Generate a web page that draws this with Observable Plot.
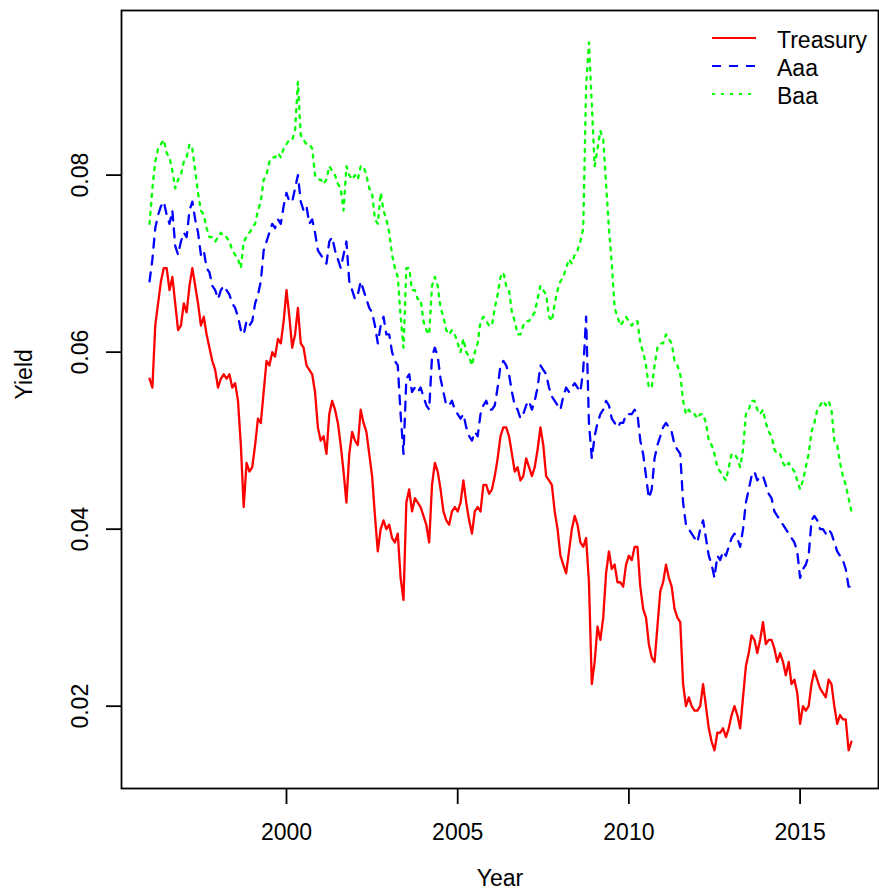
<!DOCTYPE html>
<html>
<head>
<meta charset="utf-8">
<script src="https://cdn.jsdelivr.net/npm/d3@7"></script>
<script src="https://cdn.jsdelivr.net/npm/@observablehq/plot@0.6"></script>
<style>
  body { margin: 0; background: #fff; font-family: "Liberation Sans", Arial, Helvetica, sans-serif; }
  #wrap { position: relative; width: 879px; height: 894px; }
  #legend { position: absolute; left: 712px; top: 24px; }
  .item { display: flex; align-items: center; height: 28px; }
  .item svg { display: block; }
  .item span { margin-left: 21px; font-size: 23px; color: #000; padding-top: 3px; line-height: 28px; }
</style>
</head>
<body>
<div id="wrap"><div id="legend"></div></div>
<script>
// Monthly readings, Jan 1996 .. Jul 2016
const startYear = 1996;
const treasury = [
  0.0570,0.0560,0.0630,0.0655,0.0680,0.0695,0.0695,0.0670,0.0685,0.0655,0.0625,0.0630,
  0.0655,0.0645,0.0675,0.0695,0.0675,0.0655,0.0630,0.0640,0.0620,0.0605,0.0590,0.0580,
  0.0560,0.0570,0.0575,0.0570,0.0575,0.0560,0.0565,0.0545,0.0495,0.0425,0.0475,0.0465,
  0.0470,0.0495,0.0525,0.0520,0.0555,0.0590,0.0585,0.0600,0.0595,0.0615,0.0610,0.0635,
  0.0670,0.0640,0.0605,0.0620,0.0650,0.0610,0.0605,0.0585,0.0580,0.0575,0.0555,0.0515,
  0.0500,0.0505,0.0485,0.0530,0.0545,0.0535,0.0520,0.0495,0.0465,0.0430,0.0485,0.0510,
  0.0500,0.0495,0.0535,0.0520,0.0510,0.0485,0.0460,0.0415,0.0375,0.0400,0.0410,0.0400,
  0.0405,0.0390,0.0385,0.0395,0.0345,0.0320,0.0430,0.0445,0.0420,0.0435,0.0430,0.0425,
  0.0415,0.0405,0.0385,0.0450,0.0475,0.0465,0.0445,0.0420,0.0410,0.0405,0.0420,0.0425,
  0.0420,0.0430,0.0455,0.0430,0.0410,0.0395,0.0420,0.0425,0.0420,0.0450,0.0450,0.0440,
  0.0445,0.0460,0.0480,0.0505,0.0515,0.0515,0.0505,0.0485,0.0465,0.0470,0.0455,0.0460,
  0.0480,0.0470,0.0460,0.0470,0.0490,0.0515,0.0495,0.0460,0.0455,0.0450,0.0420,0.0400,
  0.0370,0.0360,0.0350,0.0375,0.0400,0.0415,0.0405,0.0385,0.0380,0.0390,0.0340,0.0225,
  0.0250,0.0290,0.0275,0.0300,0.0350,0.0375,0.0355,0.0360,0.0340,0.0340,0.0335,0.0360,
  0.0370,0.0365,0.0380,0.0380,0.0335,0.0310,0.0300,0.0270,0.0255,0.0250,0.0290,0.0330,
  0.0340,0.0360,0.0345,0.0335,0.0310,0.0300,0.0295,0.0225,0.0200,0.0210,0.0200,0.0195,
  0.0195,0.0200,0.0225,0.0200,0.0175,0.0160,0.0150,0.0170,0.0170,0.0175,0.0165,0.0175,
  0.0190,0.0200,0.0190,0.0175,0.0210,0.0245,0.0260,0.0280,0.0275,0.0260,0.0275,0.0295,
  0.0270,0.0275,0.0275,0.0265,0.0250,0.0260,0.0250,0.0235,0.0250,0.0225,0.0230,0.0215,
  0.0180,0.0200,0.0195,0.0200,0.0225,0.0240,0.0230,0.0220,0.0215,0.0210,0.0230,0.0225,
  0.0200,0.0180,0.0190,0.0185,0.0185,0.0150,0.0160
];
const aaa = [
  0.0680,0.0705,0.0740,0.0755,0.0765,0.0770,0.0755,0.0745,0.0760,0.0720,0.0710,0.0725,
  0.0735,0.0730,0.0760,0.0770,0.0750,0.0735,0.0710,0.0715,0.0695,0.0690,0.0675,0.0670,
  0.0660,0.0670,0.0675,0.0670,0.0665,0.0655,0.0650,0.0640,0.0625,0.0620,0.0635,0.0630,
  0.0635,0.0655,0.0665,0.0680,0.0715,0.0725,0.0735,0.0745,0.0740,0.0750,0.0745,0.0765,
  0.0780,0.0770,0.0770,0.0785,0.0800,0.0770,0.0760,0.0765,0.0745,0.0750,0.0735,0.0715,
  0.0710,0.0705,0.0700,0.0725,0.0730,0.0715,0.0705,0.0695,0.0710,0.0725,0.0680,0.0670,
  0.0660,0.0665,0.0680,0.0670,0.0660,0.0650,0.0645,0.0630,0.0610,0.0630,0.0640,0.0620,
  0.0620,0.0600,0.0590,0.0585,0.0530,0.0485,0.0570,0.0575,0.0555,0.0560,0.0555,0.0560,
  0.0550,0.0540,0.0535,0.0595,0.0605,0.0595,0.0570,0.0555,0.0540,0.0540,0.0545,0.0535,
  0.0530,0.0525,0.0530,0.0515,0.0505,0.0500,0.0510,0.0505,0.0530,0.0540,0.0545,0.0535,
  0.0535,0.0540,0.0560,0.0585,0.0590,0.0585,0.0575,0.0555,0.0540,0.0535,0.0525,0.0530,
  0.0540,0.0545,0.0535,0.0545,0.0560,0.0585,0.0580,0.0575,0.0560,0.0550,0.0545,0.0540,
  0.0535,0.0550,0.0560,0.0555,0.0560,0.0565,0.0560,0.0555,0.0580,0.0640,0.0520,0.0480,
  0.0505,0.0520,0.0530,0.0535,0.0545,0.0540,0.0525,0.0520,0.0515,0.0520,0.0520,0.0530,
  0.0530,0.0530,0.0535,0.0530,0.0500,0.0485,0.0460,0.0435,0.0445,0.0480,0.0495,0.0505,
  0.0515,0.0520,0.0515,0.0510,0.0495,0.0490,0.0485,0.0430,0.0405,0.0400,0.0395,0.0390,
  0.0385,0.0400,0.0410,0.0390,0.0370,0.0360,0.0345,0.0370,0.0365,0.0375,0.0370,0.0380,
  0.0390,0.0395,0.0390,0.0380,0.0400,0.0430,0.0445,0.0460,0.0465,0.0455,0.0460,0.0460,
  0.0450,0.0440,0.0435,0.0420,0.0415,0.0410,0.0405,0.0400,0.0395,0.0390,0.0385,0.0375,
  0.0345,0.0355,0.0360,0.0370,0.0410,0.0415,0.0410,0.0400,0.0400,0.0395,0.0400,0.0395,
  0.0385,0.0375,0.0370,0.0365,0.0355,0.0335,0.0335
];
const baa = [
  0.0745,0.0785,0.0815,0.0830,0.0835,0.0840,0.0825,0.0820,0.0805,0.0785,0.0795,0.0800,
  0.0815,0.0820,0.0835,0.0830,0.0805,0.0780,0.0760,0.0755,0.0740,0.0730,0.0730,0.0725,
  0.0730,0.0735,0.0730,0.0730,0.0725,0.0715,0.0710,0.0705,0.0695,0.0725,0.0730,0.0735,
  0.0740,0.0745,0.0760,0.0770,0.0795,0.0800,0.0815,0.0820,0.0820,0.0825,0.0820,0.0830,
  0.0835,0.0840,0.0840,0.0850,0.0905,0.0845,0.0840,0.0835,0.0835,0.0830,0.0800,0.0795,
  0.0795,0.0790,0.0795,0.0810,0.0805,0.0800,0.0790,0.0785,0.0760,0.0810,0.0800,0.0795,
  0.0800,0.0795,0.0810,0.0810,0.0800,0.0785,0.0780,0.0750,0.0745,0.0780,0.0760,0.0750,
  0.0735,0.0710,0.0695,0.0685,0.0640,0.0605,0.0695,0.0695,0.0670,0.0670,0.0660,0.0660,
  0.0635,0.0625,0.0620,0.0675,0.0685,0.0675,0.0650,0.0640,0.0625,0.0620,0.0625,0.0620,
  0.0610,0.0600,0.0615,0.0600,0.0595,0.0585,0.0600,0.0610,0.0635,0.0640,0.0635,0.0630,
  0.0630,0.0650,0.0665,0.0685,0.0690,0.0675,0.0670,0.0645,0.0635,0.0620,0.0620,0.0630,
  0.0635,0.0635,0.0640,0.0645,0.0660,0.0675,0.0670,0.0665,0.0640,0.0635,0.0655,0.0670,
  0.0680,0.0685,0.0695,0.0705,0.0700,0.0710,0.0715,0.0725,0.0740,0.0900,0.0950,0.0880,
  0.0810,0.0830,0.0850,0.0840,0.0790,0.0740,0.0700,0.0650,0.0640,0.0630,0.0635,0.0640,
  0.0635,0.0630,0.0635,0.0635,0.0610,0.0600,0.0585,0.0560,0.0560,0.0585,0.0605,0.0610,
  0.0610,0.0620,0.0615,0.0610,0.0590,0.0585,0.0575,0.0545,0.0530,0.0535,0.0530,0.0530,
  0.0525,0.0530,0.0530,0.0520,0.0500,0.0495,0.0485,0.0470,0.0465,0.0460,0.0455,0.0470,
  0.0485,0.0485,0.0480,0.0470,0.0490,0.0530,0.0535,0.0545,0.0545,0.0535,0.0530,0.0535,
  0.0520,0.0510,0.0505,0.0490,0.0485,0.0485,0.0475,0.0470,0.0475,0.0470,0.0465,0.0455,
  0.0445,0.0455,0.0470,0.0485,0.0510,0.0520,0.0535,0.0540,0.0545,0.0540,0.0545,0.0535,
  0.0500,0.0495,0.0475,0.0460,0.0450,0.0435,0.0420
];
const seriesNames = ["Treasury", "Aaa", "Baa"];
const seriesColors = ["#ff0000", "#0000ff", "#00ff00"];
const seriesDash = [null, "9,8", "3,6"];
const xTicks = [2000, 2005, 2010, 2015];
const yTicks = [0.02, 0.04, 0.06, 0.08];

const rows = treasury.map((v, i) => ({
  t: startYear + i / 12,
  treasury: v,
  aaa: aaa[i],
  baa: baa[i]
}));

const font = "'Liberation Sans', Arial, Helvetica, sans-serif";

const chart = Plot.plot({
  width: 879,
  height: 894,
  marginLeft: 121,
  marginRight: 1,
  marginTop: 10,
  marginBottom: 106,
  style: { fontFamily: font, fontSize: "23px", background: "white", color: "black" },
  x: { domain: [1995.181, 2017.29], axis: null },
  y: { domain: [0.0107, 0.0986], axis: null },
  marks: [
    Plot.line(rows, { x: "t", y: "treasury", stroke: seriesColors[0], strokeWidth: 2.3 }),
    Plot.line(rows, { x: "t", y: "aaa", stroke: seriesColors[1], strokeWidth: 2.3, strokeDasharray: seriesDash[1] }),
    Plot.line(rows, { x: "t", y: "baa", stroke: seriesColors[2], strokeWidth: 2.3, strokeDasharray: seriesDash[2] }),
    Plot.frame({ stroke: "black", strokeWidth: 1.8 }),
    Plot.axisX({ ticks: xTicks, tickSize: 16, tickPadding: 19, tickFormat: d => String(d), fontSize: 23, label: null, strokeWidth: 1.8 }),
    Plot.axisY({ ticks: yTicks, tickSize: 15, tickFormat: () => "", label: null, strokeWidth: 1.8 }),
    Plot.text(yTicks, { y: d => d, text: d => d.toFixed(2), frameAnchor: "left", dx: -41, rotate: -90, fontSize: 23, textAnchor: "middle", lineAnchor: "middle" }),
    Plot.text(["Year"], { text: d => d, frameAnchor: "bottom", dy: 90, fontSize: 23, lineAnchor: "middle" }),
    Plot.text(["Yield"], { text: d => d, frameAnchor: "left", dx: -97, rotate: -90, fontSize: 23, lineAnchor: "middle" })
  ]
});
document.getElementById("wrap").insertBefore(chart, document.getElementById("legend"));

// Legend (top-right, inside the frame)
const legend = d3.select("#legend");
seriesNames.forEach((name, i) => {
  const item = legend.append("div").attr("class", "item");
  const svg = item.append("svg").attr("width", 44).attr("height", 28);
  svg.append("line")
    .attr("x1", 0).attr("x2", 44).attr("y1", 14).attr("y2", 14)
    .attr("stroke", seriesColors[i]).attr("stroke-width", 2)
    .attr("stroke-dasharray", seriesDash[i]);
  item.append("span").text(name);
});
</script>
</body>
</html>
